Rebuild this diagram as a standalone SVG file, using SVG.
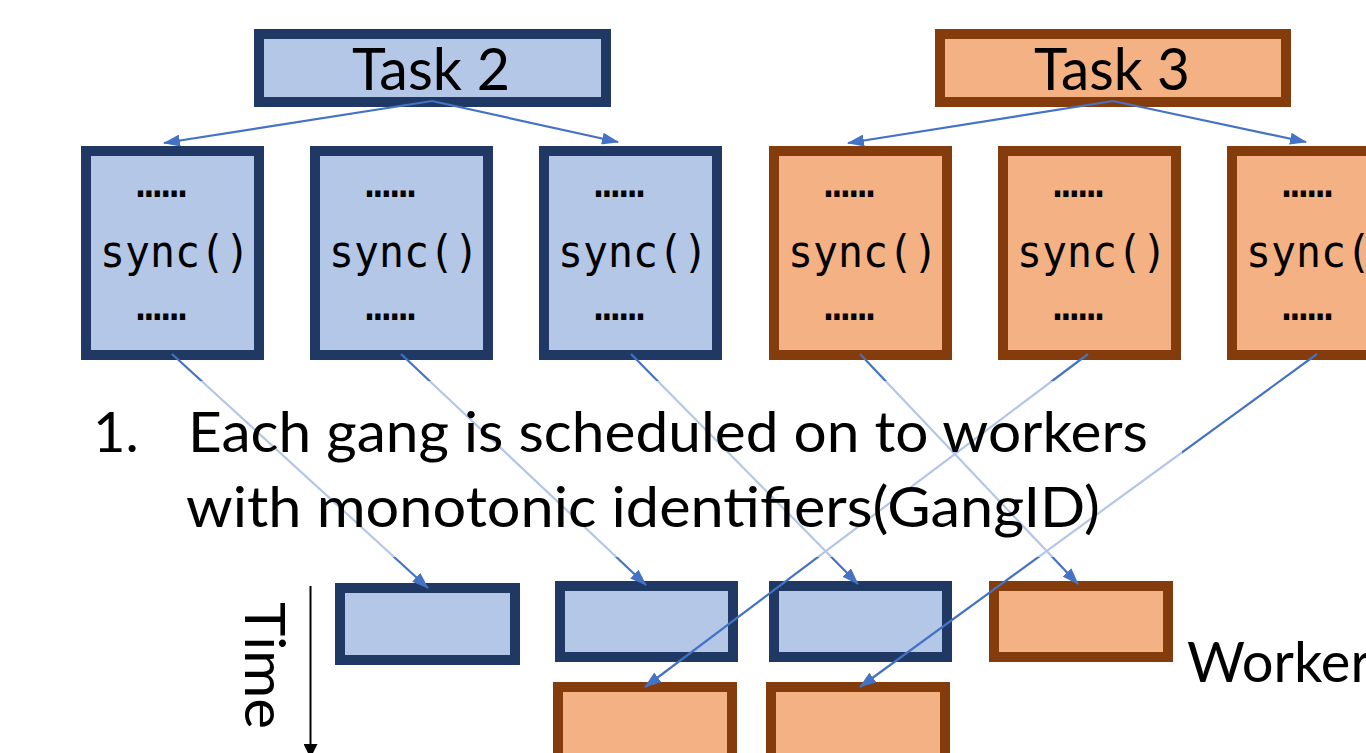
<svg xmlns="http://www.w3.org/2000/svg" width="1366" height="753" viewBox="0 0 1366 753">
<defs>
<style>
.blue{fill:#B4C7E7;stroke:#203864;stroke-width:10}
.orange{fill:#F4B183;stroke:#843C0C;stroke-width:10}
.sans{font-family:Lato,"Liberation Sans",sans-serif;fill:#000}
.mono{font-family:"DejaVu Sans Mono","Liberation Mono",monospace;font-size:44px;fill:#000;text-anchor:middle}
.dots{font-family:"DejaVu Sans Mono","Liberation Mono",monospace;font-size:42px;fill:#000;text-anchor:middle}
.conn{stroke:#4472C4;stroke-width:2.2;fill:none;marker-end:url(#arr)}
</style>
<marker id="arr" markerUnits="userSpaceOnUse" markerWidth="17" markerHeight="12" viewBox="0 0 17 12" refX="16" refY="6" orient="auto">
<path d="M0,0 L17,6 L0,12 z" fill="#4472C4"/>
</marker>
<marker id="arrk" markerUnits="userSpaceOnUse" markerWidth="14" markerHeight="14" viewBox="0 0 14 14" refX="13" refY="7" orient="auto">
<path d="M0,0 L14,7 L0,14 z" fill="#000"/>
</marker>
</defs>
<rect width="1366" height="753" fill="#fff"/>

<g id="task2">
<rect class="blue" x="259" y="34" width="347" height="68"/>
<text class="sans" x="352" y="90" font-size="58" textLength="158" lengthAdjust="spacingAndGlyphs">Task 2</text>
</g>
<g id="task3">
<rect class="orange" x="940" y="34" width="346" height="68"/>
<text class="sans" x="1034" y="90" font-size="58" textLength="156" lengthAdjust="spacingAndGlyphs">Task 3</text>
</g>

<g id="gang2-1"><rect class="blue" x="86" y="151" width="173" height="204"/>
<text class="dots" x="161.5" y="197">……</text><text class="mono" x="175" y="267" textLength="150" lengthAdjust="spacingAndGlyphs">sync()</text><text class="dots" x="161.5" y="320">……</text></g>
<g id="gang2-2"><rect class="blue" x="315" y="151" width="173" height="204"/>
<text class="dots" x="390.5" y="197">……</text><text class="mono" x="404" y="267" textLength="150" lengthAdjust="spacingAndGlyphs">sync()</text><text class="dots" x="390.5" y="320">……</text></g>
<g id="gang2-3"><rect class="blue" x="544" y="151" width="173" height="204"/>
<text class="dots" x="619.5" y="197">……</text><text class="mono" x="633" y="267" textLength="150" lengthAdjust="spacingAndGlyphs">sync()</text><text class="dots" x="619.5" y="320">……</text></g>
<g id="gang3-1"><rect class="orange" x="774" y="151" width="173" height="204"/>
<text class="dots" x="849.5" y="197">……</text><text class="mono" x="863" y="267" textLength="150" lengthAdjust="spacingAndGlyphs">sync()</text><text class="dots" x="849.5" y="320">……</text></g>
<g id="gang3-2"><rect class="orange" x="1003" y="151" width="173" height="204"/>
<text class="dots" x="1078.5" y="197">……</text><text class="mono" x="1092" y="267" textLength="150" lengthAdjust="spacingAndGlyphs">sync()</text><text class="dots" x="1078.5" y="320">……</text></g>
<g id="gang3-3"><rect class="orange" x="1232" y="151" width="173" height="204"/>
<text class="dots" x="1307.5" y="197">……</text><text class="mono" x="1321" y="267" textLength="150" lengthAdjust="spacingAndGlyphs">sync()</text><text class="dots" x="1307.5" y="320">……</text></g>

<g id="worker-a"><rect class="blue" x="340" y="588" width="175" height="72"/></g>
<g id="worker-b"><rect class="blue" x="560" y="586" width="173" height="71"/></g>
<g id="worker-c"><rect class="blue" x="774" y="586" width="173" height="71"/></g>
<g id="worker-d"><rect class="orange" x="994" y="586" width="174" height="71"/></g>
<g id="worker-e"><rect class="orange" x="558" y="687" width="174" height="90"/></g>
<g id="worker-f"><rect class="orange" x="771" y="687" width="174" height="90"/></g>

<g id="connectors">
<line class="conn" x1="432" y1="101" x2="164" y2="143"/>
<line class="conn" x1="432" y1="101" x2="618" y2="142"/>
<line class="conn" x1="1113" y1="101" x2="848" y2="143"/>
<line class="conn" x1="1113" y1="101" x2="1306" y2="142"/>
<line class="conn" x1="172" y1="354" x2="428" y2="588"/>
<line class="conn" x1="401" y1="354" x2="646" y2="585"/>
<line class="conn" x1="631" y1="354" x2="858" y2="584"/>
<line class="conn" x1="860" y1="354" x2="1078" y2="584"/>
<line class="conn" x1="1088" y1="354" x2="645" y2="687"/>
<line class="conn" x1="1317" y1="354" x2="860" y2="687"/>
<line x1="310.5" y1="586" x2="310.5" y2="757" stroke="#000" stroke-width="2" marker-end="url(#arrk)"/>
</g>

<g id="caption">
<rect x="80" y="381" width="1102" height="176" fill="#fff" fill-opacity="0.6"/>
<text class="sans" x="93" y="452" font-size="56">1.</text>
<text class="sans" x="188" y="452" font-size="56" textLength="960" lengthAdjust="spacingAndGlyphs">Each gang is scheduled on to workers</text>
<text class="sans" x="186" y="527" font-size="56" textLength="914" lengthAdjust="spacingAndGlyphs">with monotonic identifiers(GangID)</text>
</g>

<g id="time-label">
<text class="sans" transform="translate(245,602) rotate(90)" x="0" y="0" font-size="57" textLength="127" lengthAdjust="spacingAndGlyphs">Time</text>
</g>
<g id="worker-label">
<text class="sans" x="1187" y="682" font-size="56">Worker</text>
</g>
</svg>
